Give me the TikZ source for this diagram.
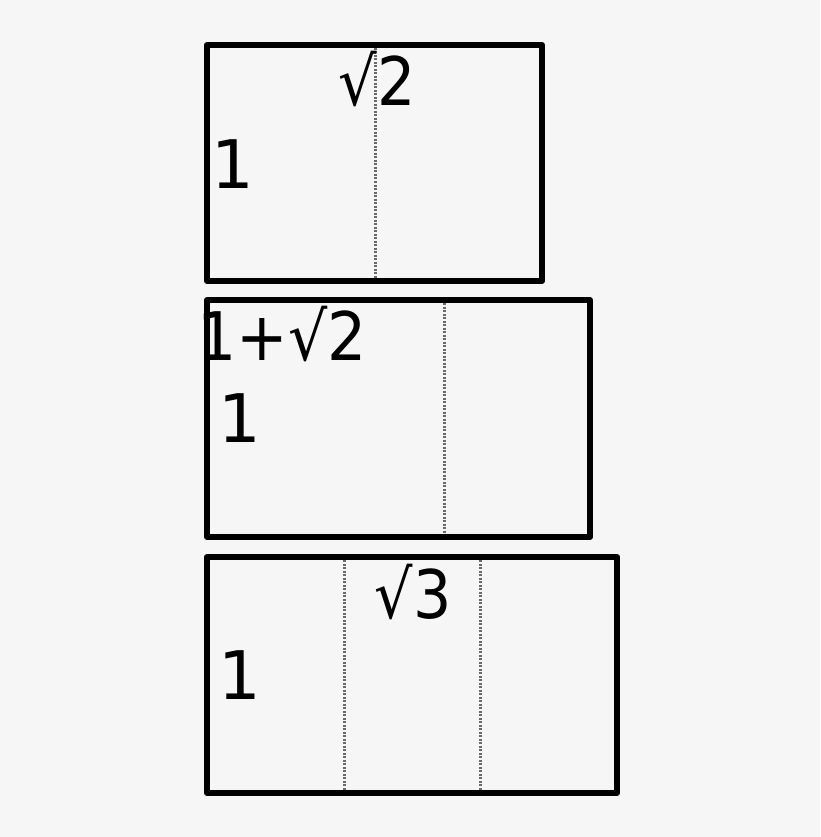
\documentclass[tikz,border=0pt]{standalone}
\usepackage{fontspec}
\setmainfont{DejaVu Sans}
\definecolor{bg}{HTML}{F6F6F6}
\definecolor{dotc}{HTML}{6A6A6A}
\begin{document}
\begin{tikzpicture}[x=1pt,y=-1pt,
  box/.style={draw=black,line width=6pt,line join=round},
  fold/.style={draw=dotc,line width=3pt,dash pattern=on 2pt off 1.5pt},
  lbl/.style={inner sep=0pt,anchor=base,font=\fontsize{67}{80}\selectfont}]
\fill[bg] (0,0) rectangle (820,837);
\useasboundingbox (0,0) rectangle (820,837);
% rectangles
\draw[box] (207,45) rectangle (542,281);
\draw[box] (207,300) rectangle (590,537);
\draw[box] (207,557) rectangle (617,793);
% fold lines
\coordinate (a1) at (375,48); \coordinate (a2) at (375,278);
\coordinate (b1) at (444,303); \coordinate (b2) at (444,534);
\coordinate (c1) at (344,560); \coordinate (c2) at (344,790);
\coordinate (d1) at (480,560); \coordinate (d2) at (480,790);
\draw[fold] (a1) -- (a2);
\draw[fold] (b1) -- (b2);
\draw[fold] (c1) -- (c2);
\draw[fold] (d1) -- (d2);
% labels
\node[lbl] (t1) at (377,106) {\scalebox{0.9}[1]{√2}};
\node[lbl] (s1) at (233,188) {1};
\node[lbl] (t2) at (282,360) {\scalebox{0.92}[1]{1+√2}};
\node[lbl] (s2) at (240,442) {1};
\node[lbl] (t3) at (413,618) {\scalebox{0.9}[1]{√3}};
\node[lbl] (s3) at (240,699) {1};
\end{tikzpicture}
\end{document}
